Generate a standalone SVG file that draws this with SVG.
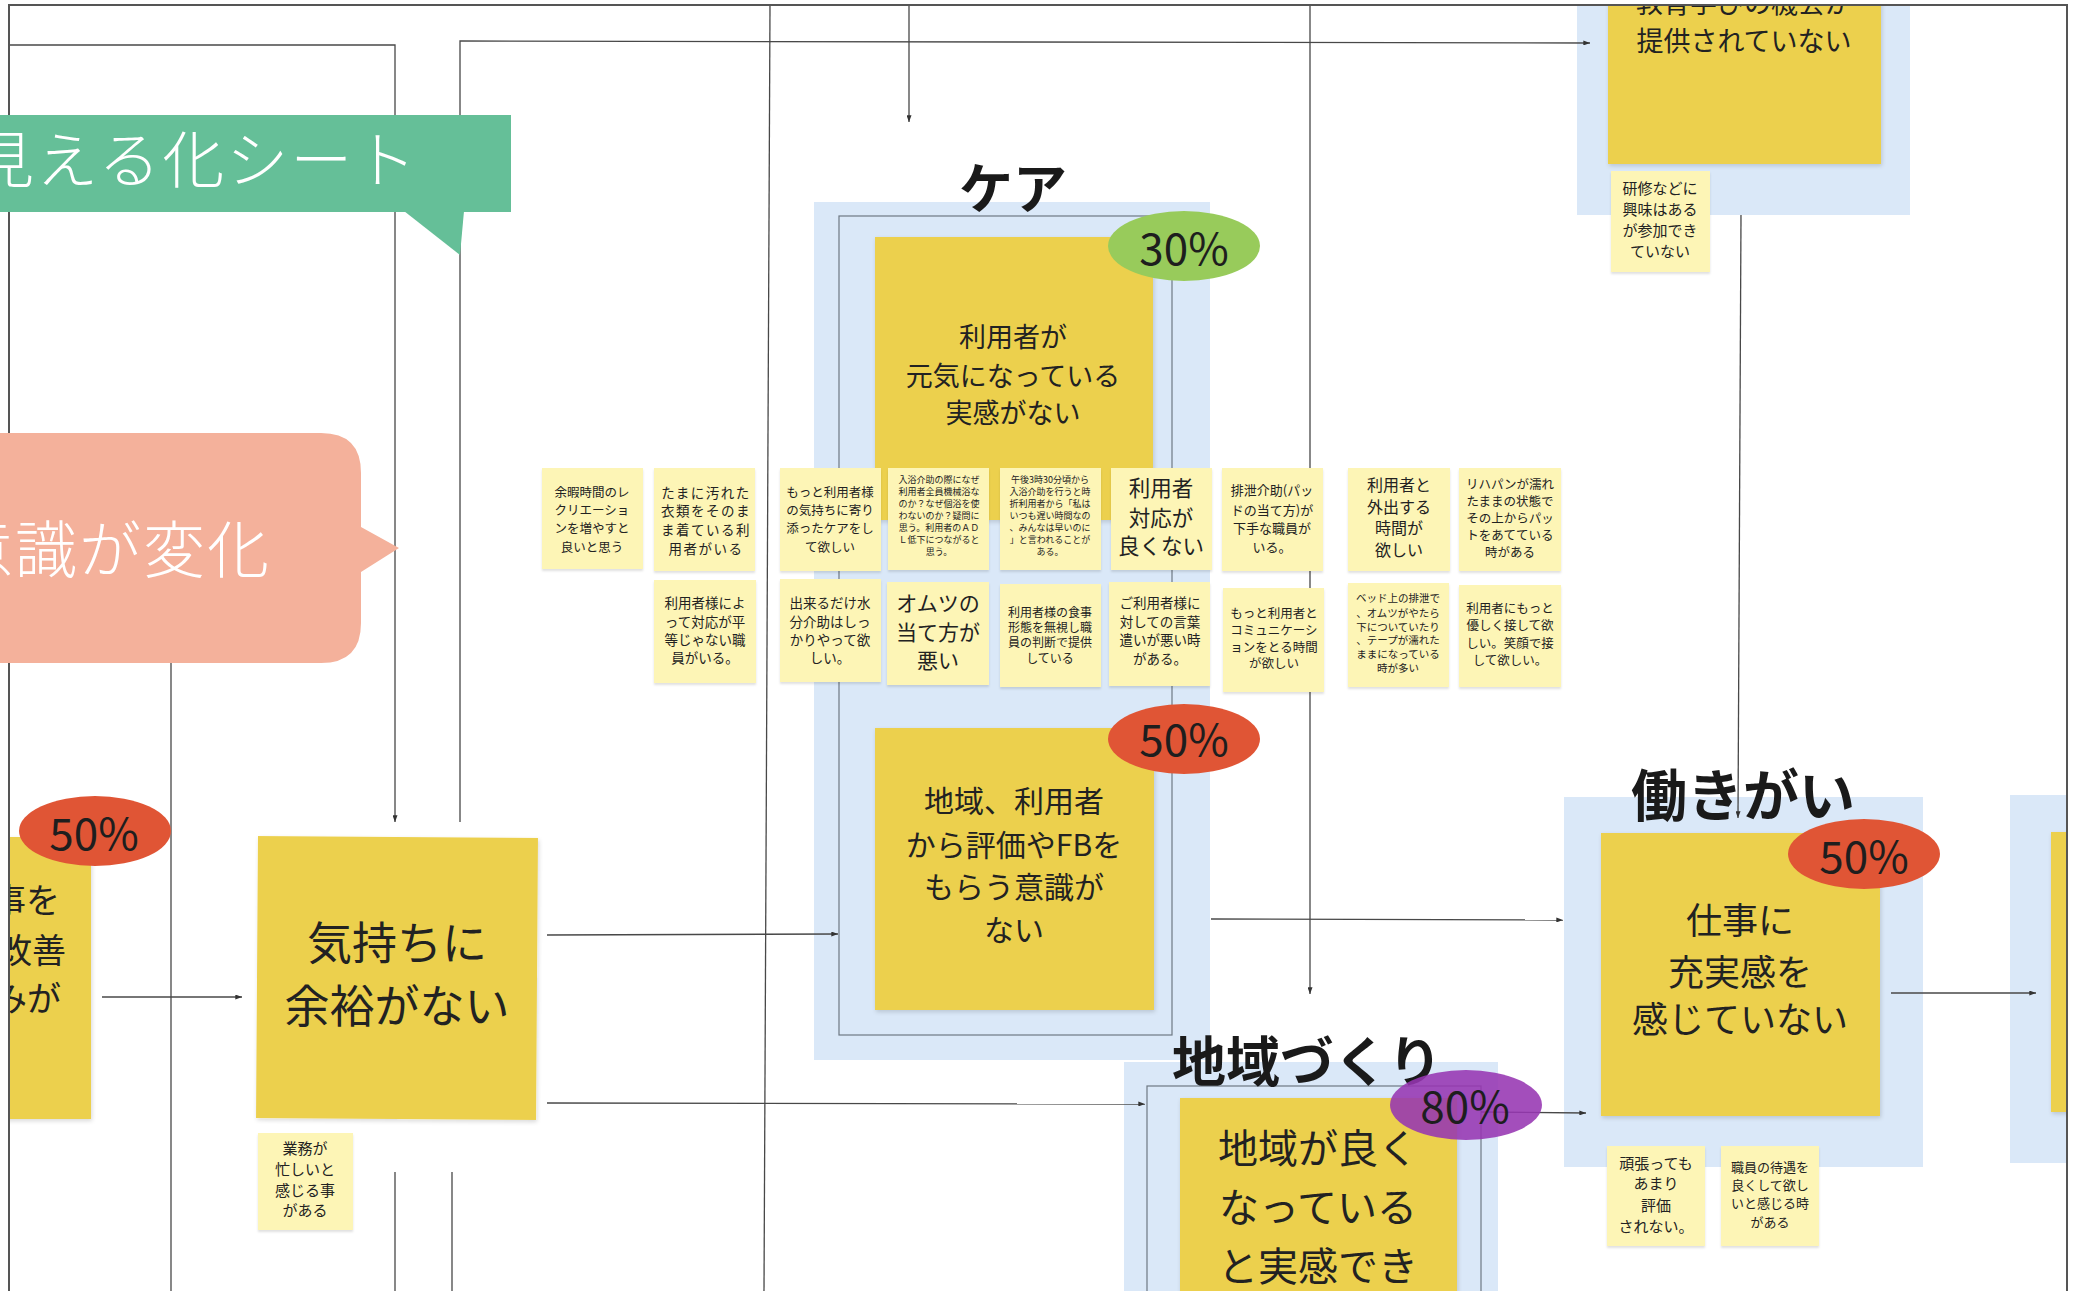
<svg xmlns="http://www.w3.org/2000/svg" width="2083" height="1291" viewBox="0 0 2083 1291">
<style>
.bg{fill:#ffffff}
.blue{fill:#DAE8F8}
.note{fill:#ECD04E;filter:url(#sh)}
.sn{fill:#FDF5B6;filter:url(#sh2)}
.ifr{fill:none;stroke:#6E7884;stroke-width:1.2}
.ln{fill:none;stroke:#484848;stroke-width:1.3}
.arr{marker-end:url(#ah)}
.t{font-family:"Noto Sans CJK JP","Noto Sans",sans-serif;fill:#222;text-anchor:middle}
.ttl{font-family:"Noto Sans CJK JP","Noto Sans",sans-serif;fill:#1a1a1a;font-weight:700;text-anchor:middle}
.pct{font-family:"Noto Sans CJK JP","Noto Sans",sans-serif;fill:#1e1e1e;text-anchor:middle;font-size:44px}
.wt{font-family:"Noto Sans CJK JP","Noto Sans",sans-serif;fill:#ffffff;font-weight:300}
</style>
<defs>
<marker id="ah" viewBox="0 0 8 6" refX="8" refY="3" markerWidth="7" markerHeight="5" orient="auto" markerUnits="userSpaceOnUse"><path d="M0,0 L8,3 L0,6 z" fill="#333"/></marker>
<filter id="sh" x="-5%" y="-5%" width="115%" height="115%"><feDropShadow dx="1" dy="2" stdDeviation="2" flood-color="#000" flood-opacity="0.15"/></filter>
<filter id="sh2" x="-5%" y="-5%" width="115%" height="115%"><feDropShadow dx="0" dy="2" stdDeviation="1.2" flood-color="#000" flood-opacity="0.12"/></filter>
<clipPath id="fc"><rect x="9" y="5" width="2058" height="1286"/></clipPath>
</defs>
<rect class="bg" x="0" y="0" width="2083" height="1291"/>
<g clip-path="url(#fc)">
  <!-- blue group boxes and titles -->
  <g id="grp-care">
    <rect class="blue" x="814" y="202" width="396" height="858"/>
    <rect class="ifr" x="839" y="216" width="333" height="819"/>
    <text class="ttl" x="1013" y="209" font-size="54">ケア</text>
  </g>
  <g id="grp-kyoiku">
    <rect class="blue" x="1577" y="-100" width="333" height="315"/>
  </g>
  <g id="grp-hatarakigai">
    <rect class="blue" x="1564" y="797" width="359" height="370"/>
    <text class="ttl" x="1743" y="816" font-size="56">働きがい</text>
  </g>
  <g id="grp-chiiki">
    <rect class="blue" x="1124" y="1062" width="374" height="260"/>
    <rect class="ifr" x="1147" y="1086" width="334" height="260"/>
    <text class="ttl" x="1307" y="1082" font-size="54">地域づくり</text>
  </g>
  <g id="grp-right">
    <rect class="blue" x="2010" y="795" width="90" height="368"/>
  </g>

  <!-- connectors -->
  <g id="connectors">
    <path class="ln arr" d="M9,45 H395 V822"/>
    <path class="ln arr" d="M460,822 V41 L1590,43"/>
    <path class="ln" d="M770,5 L764,1291"/>
    <path class="ln arr" d="M909,5 V122"/>
    <path class="ln arr" d="M1310,5 V994"/>
    <path class="ln arr" d="M1211,919 L1563,920"/>
    <path class="ln arr" d="M547,935 L838,934"/>
    <path class="ln arr" d="M547,1103 L1145,1104"/>
    <path class="ln arr" d="M102,997 H242"/>
    <path class="ln arr" d="M1481,1112 L1586,1113"/>
    <path class="ln arr" d="M1891,993 L2036,993"/>
    <path class="ln arr" d="M1741,215 L1738,818"/>
    <path class="ln" d="M171,600 V1291"/>
    <path class="ln" d="M395,1172 V1291"/>
    <path class="ln" d="M452,1172 V1291"/>
  </g>

  <!-- big notes -->
  <g id="n-left">
    <rect class="note" x="-190" y="837" width="281" height="282"/>
    <text class="t" font-size="34" style="text-anchor:end"><tspan x="60" y="913">事を</tspan><tspan x="66" y="963">改善</tspan><tspan x="61" y="1011">みが</tspan></text>
  </g>
  <g id="n-kimochi">
    <rect class="note" x="257" y="837" width="280" height="282" transform="rotate(0.4 397 978)"/>
    <text class="t" font-size="45"><tspan x="397" y="960">気持ちに</tspan><tspan x="397" y="1023">余裕がない</tspan></text>
  </g>
  <g id="n-genki">
    <rect class="note" x="875" y="237" width="278" height="283"/>
    <text class="t" font-size="27"><tspan x="1013" y="347">利用者が</tspan><tspan x="1013" y="386">元気になっている</tspan><tspan x="1013" y="423">実感がない</tspan></text>
  </g>
  <g id="n-hyoka">
    <rect class="note" x="875" y="728" width="279" height="282"/>
    <text class="t" font-size="30"><tspan x="1014" y="812">地域、利用者</tspan><tspan x="1014" y="856">から評価やFBを</tspan><tspan x="1014" y="898">もらう意識が</tspan><tspan x="1014" y="941">ない</tspan></text>
  </g>
  <g id="n-kyoiku">
    <rect class="note" x="1608" y="-100" width="273" height="264"/>
    <text class="t" font-size="27"><tspan x="1744" y="13">教育学びの機会が</tspan><tspan x="1744" y="51">提供されていない</tspan></text>
  </g>
  <g id="n-jujitsu">
    <rect class="note" x="1601" y="833" width="279" height="283"/>
    <text class="t" font-size="36"><tspan x="1740" y="934">仕事に</tspan><tspan x="1740" y="986">充実感を</tspan><tspan x="1740" y="1033">感じていない</tspan></text>
  </g>
  <g id="n-chiiki">
    <rect class="note" x="1180" y="1098" width="277" height="260"/>
    <text class="t" font-size="40"><tspan x="1318" y="1163">地域が良く</tspan><tspan x="1318" y="1222">なっている</tspan><tspan x="1318" y="1281">と実感でき</tspan></text>
  </g>
  <g id="n-right">
    <rect class="note" x="2051" y="832" width="60" height="280"/>
  </g>

  <!-- small notes -->
  <g id="s1"><rect class="sn" x="542" y="468" width="101" height="101"/>
    <text class="t" font-size="12.5"><tspan x="592" y="497">余暇時間のレ</tspan><tspan x="592" y="515">クリエーショ</tspan><tspan x="592" y="533">ンを増やすと</tspan><tspan x="592" y="552">良いと思う</tspan></text></g>
  <g id="s2"><rect class="sn" x="654" y="468" width="101" height="103"/>
    <text class="t" font-size="13.5" letter-spacing="1.5"><tspan x="706" y="498">たまに汚れた</tspan><tspan x="706" y="516">衣類をそのま</tspan><tspan x="706" y="535">ま着ている利</tspan><tspan x="706" y="554">用者がいる</tspan></text></g>
  <g id="s3"><rect class="sn" x="780" y="468" width="101" height="103"/>
    <text class="t" font-size="12.5"><tspan x="830" y="497">もっと利用者様</tspan><tspan x="830" y="515">の気持ちに寄り</tspan><tspan x="830" y="533">添ったケアをし</tspan><tspan x="830" y="552">て欲しい</tspan></text></g>
  <g id="s4"><rect class="sn" x="888" y="468" width="101" height="102"/>
    <text class="t" font-size="9"><tspan x="939" y="483">入浴介助の際になぜ</tspan><tspan x="939" y="495">利用者全員機械浴な</tspan><tspan x="939" y="507">のか？なぜ個浴を使</tspan><tspan x="939" y="519">わないのか？疑問に</tspan><tspan x="939" y="531">思う。利用者のＡＤ</tspan><tspan x="939" y="543">Ｌ低下につながると</tspan><tspan x="939" y="555">思う。</tspan></text></g>
  <g id="s5"><rect class="sn" x="1000" y="468" width="101" height="102"/>
    <text class="t" font-size="9"><tspan x="1050" y="483">午後3時30分頃から</tspan><tspan x="1050" y="495">入浴介助を行うと時</tspan><tspan x="1050" y="507">折利用者から「私は</tspan><tspan x="1050" y="519">いつも遅い時間なの</tspan><tspan x="1050" y="531">、みんなは早いのに</tspan><tspan x="1050" y="543">」と言われることが</tspan><tspan x="1050" y="555">ある。</tspan></text></g>
  <g id="s6"><rect class="sn" x="1111" y="468" width="101" height="102"/>
    <text class="t" font-size="21.5"><tspan x="1161" y="496">利用者</tspan><tspan x="1161" y="526">対応が</tspan><tspan x="1161" y="554">良くない</tspan></text></g>
  <g id="s7"><rect class="sn" x="1222" y="468" width="101" height="103"/>
    <text class="t" font-size="13"><tspan x="1272" y="495">排泄介助(パッ</tspan><tspan x="1272" y="515">ドの当て方)が</tspan><tspan x="1272" y="533">下手な職員が</tspan><tspan x="1272" y="552">いる。</tspan></text></g>
  <g id="s8"><rect class="sn" x="1348" y="468" width="102" height="103"/>
    <text class="t" font-size="16"><tspan x="1399" y="491">利用者と</tspan><tspan x="1399" y="513">外出する</tspan><tspan x="1399" y="534">時間が</tspan><tspan x="1399" y="556">欲しい</tspan></text></g>
  <g id="s9"><rect class="sn" x="1459" y="468" width="102" height="103"/>
    <text class="t" font-size="12.5"><tspan x="1510" y="489">リハパンが濡れ</tspan><tspan x="1510" y="506">たままの状態で</tspan><tspan x="1510" y="523">その上からパッ</tspan><tspan x="1510" y="540">トをあてている</tspan><tspan x="1510" y="557">時がある</tspan></text></g>

  <g id="s10"><rect class="sn" x="654" y="580" width="102" height="103"/>
    <text class="t" font-size="13.5"><tspan x="705" y="608">利用者様によ</tspan><tspan x="705" y="627">って対応が平</tspan><tspan x="705" y="645">等じゃない職</tspan><tspan x="705" y="663">員がいる。</tspan></text></g>
  <g id="s11"><rect class="sn" x="780" y="579" width="101" height="103"/>
    <text class="t" font-size="13.5"><tspan x="830" y="608">出来るだけ水</tspan><tspan x="830" y="627">分介助はしっ</tspan><tspan x="830" y="645">かりやって欲</tspan><tspan x="830" y="663">しい。</tspan></text></g>
  <g id="s12"><rect class="sn" x="887" y="582" width="102" height="103"/>
    <text class="t" font-size="21"><tspan x="938" y="611">オムツの</tspan><tspan x="938" y="640">当て方が</tspan><tspan x="938" y="668">悪い</tspan></text></g>
  <g id="s13"><rect class="sn" x="1000" y="584" width="101" height="103"/>
    <text class="t" font-size="12"><tspan x="1050" y="617">利用者様の食事</tspan><tspan x="1050" y="632">形態を無視し職</tspan><tspan x="1050" y="647">員の判断で提供</tspan><tspan x="1050" y="663">している</tspan></text></g>
  <g id="s14"><rect class="sn" x="1109" y="582" width="101" height="104"/>
    <text class="t" font-size="13.5"><tspan x="1160" y="608">ご利用者様に</tspan><tspan x="1160" y="627">対しての言葉</tspan><tspan x="1160" y="645">遣いが悪い時</tspan><tspan x="1160" y="664">がある。</tspan></text></g>
  <g id="s15"><rect class="sn" x="1223" y="588" width="101" height="104"/>
    <text class="t" font-size="12.5"><tspan x="1274" y="618">もっと利用者と</tspan><tspan x="1274" y="635">コミュニケーシ</tspan><tspan x="1274" y="652">ョンをとる時間</tspan><tspan x="1274" y="668">が欲しい</tspan></text></g>
  <g id="s16"><rect class="sn" x="1348" y="583" width="101" height="104"/>
    <text class="t" font-size="10.5"><tspan x="1398" y="602">ベッド上の排泄で</tspan><tspan x="1398" y="617">、オムツがやたら</tspan><tspan x="1398" y="631">下についていたり</tspan><tspan x="1398" y="644">、テープが濡れた</tspan><tspan x="1398" y="658">ままになっている</tspan><tspan x="1398" y="672">時が多い</tspan></text></g>
  <g id="s17"><rect class="sn" x="1459" y="585" width="102" height="102"/>
    <text class="t" font-size="12.5"><tspan x="1510" y="613">利用者にもっと</tspan><tspan x="1510" y="630">優しく接して欲</tspan><tspan x="1510" y="648">しい。笑顔で接</tspan><tspan x="1510" y="665">して欲しい。</tspan></text></g>

  <g id="s18"><rect class="sn" x="1611" y="171" width="99" height="101"/>
    <text class="t" font-size="15"><tspan x="1660" y="194">研修などに</tspan><tspan x="1660" y="215">興味はある</tspan><tspan x="1660" y="236">が参加でき</tspan><tspan x="1660" y="257">ていない</tspan></text></g>
  <g id="s19"><rect class="sn" x="258" y="1133" width="95" height="97"/>
    <text class="t" font-size="15"><tspan x="305" y="1154">業務が</tspan><tspan x="305" y="1175">忙しいと</tspan><tspan x="305" y="1196">感じる事</tspan><tspan x="305" y="1216">がある</tspan></text></g>
  <g id="s20"><rect class="sn" x="1607" y="1146" width="98" height="100"/>
    <text class="t" font-size="15"><tspan x="1656" y="1169">頑張っても</tspan><tspan x="1656" y="1189">あまり</tspan><tspan x="1656" y="1211">評価</tspan><tspan x="1656" y="1232">されない。</tspan></text></g>
  <g id="s21"><rect class="sn" x="1721" y="1146" width="98" height="100"/>
    <text class="t" font-size="13"><tspan x="1770" y="1172">職員の待遇を</tspan><tspan x="1770" y="1190">良くして欲し</tspan><tspan x="1770" y="1208">いと感じる時</tspan><tspan x="1770" y="1227">がある</tspan></text></g>

  <!-- percentage ellipses -->
  <g id="p-left"><ellipse cx="95" cy="831" rx="76" ry="35" fill="#E05535"/><text class="pct" x="94" y="850">50%</text></g>
  <g id="p-care30"><ellipse cx="1184" cy="246" rx="76" ry="35" fill="#98CB5B"/><text class="pct" x="1184" y="265">30%</text></g>
  <g id="p-care50"><ellipse cx="1184" cy="739" rx="76" ry="35" fill="#E05535"/><text class="pct" x="1184" y="756">50%</text></g>
  <g id="p-work"><ellipse cx="1864" cy="854" rx="76" ry="35" fill="#E05535"/><text class="pct" x="1864" y="873">50%</text></g>
  <g id="p-chiiki"><ellipse cx="1466" cy="1105" rx="76" ry="35" fill="#9636B2" fill-opacity="0.88"/><text class="pct" x="1465" y="1123">80%</text></g>
</g>

<!-- outer frame -->
<path d="M9,1291 V5 H2067 V1291" fill="none" stroke="#555" stroke-width="2"/>

<!-- annotations -->
<g id="banner">
  <rect x="0" y="115" width="511" height="97" fill="#65BF98"/>
  <polygon points="404,211 464,211 460,255" fill="#65BF98"/>
  <text class="wt" x="-28" y="183" font-size="62" letter-spacing="2">見える化シート</text>
</g>
<g id="bubble">
  <path d="M-50,433 H321 Q361,433 361,473 V527 L399,548 L361,572 V623 Q361,663 321,663 H-50 Z" fill="#F4B19B"/>
  <text class="wt" x="-49" y="573" font-size="62" letter-spacing="2">意識が変化</text>
</g>
</svg>
